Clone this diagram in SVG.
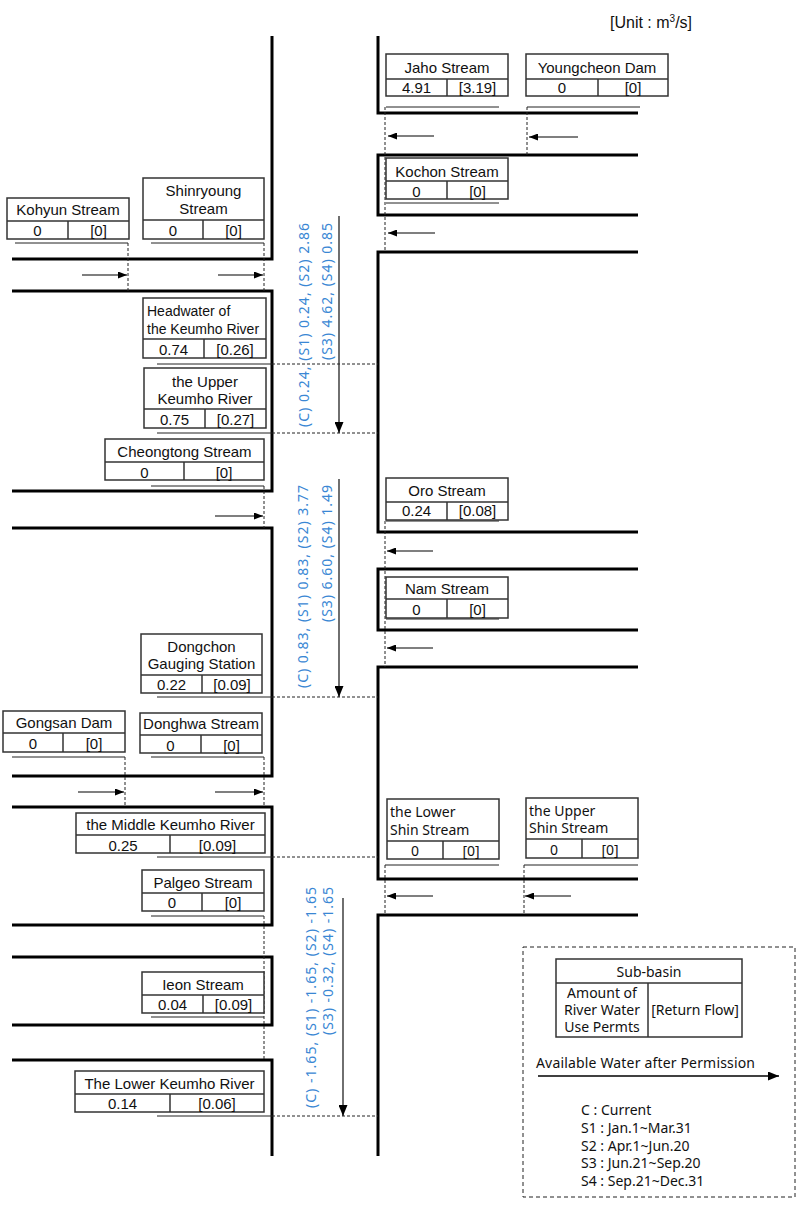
<svg xmlns="http://www.w3.org/2000/svg" width="800" height="1209" viewBox="0 0 800 1209">
<style>
.wall{fill:none;stroke:#000;stroke-width:3;stroke-linejoin:miter}
.box rect{fill:#fff;stroke:#333;stroke-width:1.5}
.box line{stroke:#333;stroke-width:1.5}
.t{font-family:"Liberation Sans",Arial,sans-serif;font-size:15px;fill:#111;text-anchor:middle}
.tl{text-anchor:start}
.k{font-family:"Noto Sans","Liberation Sans",sans-serif;font-size:14px;fill:#111}
.thin{fill:none;stroke:#222;stroke-width:1}
.dash{fill:none;stroke:#222;stroke-width:1;stroke-dasharray:3,2}
.arr{fill:none;stroke:#000;stroke-width:1.2;marker-end:url(#ah)}
.big{fill:none;stroke:#222;stroke-width:1.3;marker-end:url(#bh)}
.blue{font-family:"Noto Sans","DejaVu Sans",sans-serif;font-size:14px;fill:#3a87d4}
</style>
<defs>
<marker id="ah" markerUnits="userSpaceOnUse" markerWidth="9" markerHeight="7" refX="9" refY="3.5" orient="auto"><path d="M0,0 L9,3.5 L0,7 z" fill="#000"/></marker>
<marker id="bh" markerUnits="userSpaceOnUse" markerWidth="11" markerHeight="9" refX="11" refY="4.5" orient="auto"><path d="M0,0 L11,4.5 L0,9 z" fill="#000"/></marker>
</defs>
<rect width="800" height="1209" fill="#fff"/>
<text class="t tl" x="610" y="28" style="font-size:16px">[Unit : m<tspan font-size="10" dy="-6">3</tspan><tspan dy="6">/s]</tspan></text>

<g id="channels">
<path class="wall" d="M272,36 V259 H12 M12,291 H272 V491 H12 M12,528 H272 V776 H12 M12,807 H272 V925 H12 M12,957 H272 V1025 H12 M12,1060 H272 V1156"/>
<path class="wall" d="M378,36 V113 H638 M638,155 H378 V215 H638 M638,252 H378 V532 H638 M638,569 H378 V630 H638 M638,667 H378 V879 H638 M638,915 H378 V1156"/>
</g>

<g id="connectors">
<path class="thin" d="M386,107 H499 M527,107 H640 M386,203 H499 M15,243 H128 M151,243 H264 M151,486 H264 M12,757 H125 M151,757 H264 M151,916 H264 M151,1017 H264 M386,521 H499 M386,619 H499 M385,865 H499 M524,865 H638"/>
<path class="dash" d="M385,107 V252 M527,107 V155 M128,243 V291 M264,243 V291 M264,486 V528 M125,757 V807 M264,757 V807 M264,916 V1060 M385,521 V667 M385,865 V915 M524,865 V915"/>
<path class="thin" d="M157,364 H272 M157,433 H272 M157,697 H272 M157,857 H272 M157,1116 H272"/>
<path class="dash" d="M272,364 H378 M272,433 H378 M272,697 H378 M272,857 H378 M272,1116 H378"/>
<path class="arr" d="M434,136 H388"/>
<path class="arr" d="M578,137 H529"/>
<path class="arr" d="M435,233 H388"/>
<path class="arr" d="M82,275 H127"/>
<path class="arr" d="M218,275 H263"/>
<path class="arr" d="M215,516 H263"/>
<path class="arr" d="M78,792 H124"/>
<path class="arr" d="M215,792 H263"/>
<path class="arr" d="M433,551 H387"/>
<path class="arr" d="M433,648 H387"/>
<path class="arr" d="M433,896 H387"/>
<path class="arr" d="M571,896 H525"/>
<path class="big" d="M339,216 V433"/>
<path class="big" d="M339,479 V697"/>
<path class="big" d="M343,898 V1116"/>
</g>

<g id="flow-labels">
<text class="blue" transform="translate(309,427) rotate(-90)" textLength="204" lengthAdjust="spacing">(C) 0.24, (S1) 0.24, (S2) 2.86</text>
<text class="blue" transform="translate(332,360) rotate(-90)" textLength="137" lengthAdjust="spacing">(S3) 4.62, (S4) 0.85</text>
<text class="blue" transform="translate(308,688) rotate(-90)" textLength="203" lengthAdjust="spacing">(C) 0.83, (S1) 0.83, (S2) 3.77</text>
<text class="blue" transform="translate(332,622) rotate(-90)" textLength="137" lengthAdjust="spacing">(S3) 6.60, (S4) 1.49</text>
<text class="blue" transform="translate(316,1108) rotate(-90)" textLength="221" lengthAdjust="spacing">(C) -1.65, (S1) -1.65, (S2) -1.65</text>
<text class="blue" transform="translate(333,1035) rotate(-90)" textLength="148" lengthAdjust="spacing">(S3) -0.32, (S4) -1.65</text>
</g>

<g id="jaho" class="box"><rect x="386" y="54" width="122" height="42"/><line x1="386" y1="79" x2="508" y2="79"/><line x1="447" y1="79" x2="447" y2="96"/>
<text class="t" x="447" y="73">Jaho Stream</text><text class="t" x="416.5" y="93">4.91</text><text class="t" x="477.5" y="93">[3.19]</text></g>
<g id="youngcheon" class="box"><rect x="526" y="54" width="142" height="42"/><line x1="526" y1="79" x2="668" y2="79"/><line x1="598" y1="79" x2="598" y2="96"/>
<text class="t" x="597" y="73">Youngcheon Dam</text><text class="t" x="562" y="93">0</text><text class="t" x="633" y="93">[0]</text></g>
<g id="kochon" class="box"><rect x="386" y="158" width="122" height="41"/><line x1="386" y1="181" x2="508" y2="181"/><line x1="447" y1="181" x2="447" y2="199"/>
<text class="t" x="447" y="177">Kochon Stream</text><text class="t" x="416.5" y="197">0</text><text class="t" x="477.5" y="197">[0]</text></g>
<g id="kohyun" class="box"><rect x="7" y="198" width="122" height="41"/><line x1="7" y1="221" x2="129" y2="221"/><line x1="68" y1="221" x2="68" y2="239"/>
<text class="t" x="68" y="215">Kohyun Stream</text><text class="t" x="37.5" y="236">0</text><text class="t" x="98.5" y="236">[0]</text></g>
<g id="shinryoung" class="box"><rect x="143" y="178" width="121" height="61"/><line x1="143" y1="220" x2="264" y2="220"/><line x1="203" y1="220" x2="203" y2="239"/>
<text class="t" x="203.5" y="196">Shinryoung</text><text class="t" x="203.5" y="214">Stream</text><text class="t" x="173" y="236">0</text><text class="t" x="233.5" y="236">[0]</text></g>
<g id="headwater" class="box"><rect x="143" y="298" width="123" height="60"/><line x1="143" y1="339" x2="266" y2="339"/><line x1="204" y1="339" x2="204" y2="358"/>
<text class="t tl" x="147" y="316" style="font-size:14px">Headwater of</text><text class="t tl" x="147" y="334" style="font-size:14px">the Keumho River</text><text class="t" x="173.5" y="355">0.74</text><text class="t" x="235" y="355">[0.26]</text></g>
<g id="upper-keumho" class="box"><rect x="144" y="368" width="122" height="60"/><line x1="144" y1="409" x2="266" y2="409"/><line x1="205" y1="409" x2="205" y2="428"/>
<text class="t" x="205" y="387">the Upper</text><text class="t" x="205" y="404">Keumho River</text><text class="t" x="174.5" y="425">0.75</text><text class="t" x="235.5" y="425">[0.27]</text></g>
<g id="cheongtong" class="box"><rect x="105" y="439" width="159" height="41"/><line x1="105" y1="462" x2="264" y2="462"/><line x1="184" y1="462" x2="184" y2="480"/>
<text class="t" x="184.5" y="457">Cheongtong Stream</text><text class="t" x="144.5" y="478">0</text><text class="t" x="224" y="478">[0]</text></g>
<g id="dongchon" class="box"><rect x="141" y="634" width="121" height="59"/><line x1="141" y1="675" x2="262" y2="675"/><line x1="202" y1="675" x2="202" y2="693"/>
<text class="t" x="201.5" y="652">Dongchon</text><text class="t" x="201.5" y="669">Gauging Station</text><text class="t" x="171.5" y="690">0.22</text><text class="t" x="232" y="690">[0.09]</text></g>
<g id="gongsan" class="box"><rect x="3" y="711" width="122" height="41"/><line x1="3" y1="733" x2="125" y2="733"/><line x1="63" y1="733" x2="63" y2="752"/>
<text class="t" x="64" y="728">Gongsan Dam</text><text class="t" x="33" y="749">0</text><text class="t" x="94" y="749">[0]</text></g>
<g id="donghwa" class="box"><rect x="140" y="713" width="122" height="40"/><line x1="140" y1="735" x2="262" y2="735"/><line x1="201" y1="735" x2="201" y2="753"/>
<text class="t" x="201" y="729">Donghwa Stream</text><text class="t" x="170.5" y="751">0</text><text class="t" x="231.5" y="751">[0]</text></g>
<g id="middle-keumho" class="box"><rect x="76" y="813" width="189" height="40"/><line x1="76" y1="835" x2="265" y2="835"/><line x1="170" y1="835" x2="170" y2="853"/>
<text class="t" x="170.5" y="830">the Middle Keumho River</text><text class="t" x="123" y="851">0.25</text><text class="t" x="217.5" y="851">[0.09]</text></g>
<g id="palgeo" class="box"><rect x="142" y="870" width="122" height="41"/><line x1="142" y1="893" x2="264" y2="893"/><line x1="202" y1="893" x2="202" y2="911"/>
<text class="t" x="203" y="888">Palgeo Stream</text><text class="t" x="172" y="908">0</text><text class="t" x="233" y="908">[0]</text></g>
<g id="ieon" class="box"><rect x="142" y="972" width="122" height="41"/><line x1="142" y1="995" x2="264" y2="995"/><line x1="203" y1="995" x2="203" y2="1013"/>
<text class="t" x="203" y="990">Ieon Stream</text><text class="t" x="172.5" y="1010">0.04</text><text class="t" x="233.5" y="1010">[0.09]</text></g>
<g id="lower-keumho" class="box"><rect x="75" y="1071" width="189" height="41"/><line x1="75" y1="1094" x2="264" y2="1094"/><line x1="170" y1="1094" x2="170" y2="1112"/>
<text class="t" x="169.5" y="1089">The Lower Keumho River</text><text class="t" x="122.5" y="1109">0.14</text><text class="t" x="217" y="1109">[0.06]</text></g>
<g id="oro" class="box"><rect x="386" y="478" width="122" height="42"/><line x1="386" y1="502" x2="508" y2="502"/><line x1="447" y1="502" x2="447" y2="520"/>
<text class="t" x="447" y="496">Oro Stream</text><text class="t" x="416.5" y="516">0.24</text><text class="t" x="477.5" y="516">[0.08]</text></g>
<g id="nam" class="box"><rect x="386" y="577" width="122" height="41"/><line x1="386" y1="599" x2="508" y2="599"/><line x1="447" y1="599" x2="447" y2="618"/>
<text class="t" x="447" y="594">Nam Stream</text><text class="t" x="416.5" y="615">0</text><text class="t" x="477.5" y="615">[0]</text></g>
<g id="lower-shin" class="box"><rect x="387" y="799" width="112" height="60"/><line x1="387" y1="841" x2="499" y2="841"/><line x1="443" y1="841" x2="443" y2="859"/>
<text class="k" x="390" y="817">the Lower</text><text class="k" x="390" y="835">Shin Stream</text><text class="k" x="415" y="856" text-anchor="middle">0</text><text class="k" x="471" y="856" text-anchor="middle">[0]</text></g>
<g id="upper-shin" class="box"><rect x="526" y="798" width="112" height="60"/><line x1="526" y1="839" x2="638" y2="839"/><line x1="582" y1="839" x2="582" y2="858"/>
<text class="k" x="529" y="816">the Upper</text><text class="k" x="529" y="833">Shin Stream</text><text class="k" x="554" y="855" text-anchor="middle">0</text><text class="k" x="610" y="855" text-anchor="middle">[0]</text></g>

<g id="legend">
<rect x="523" y="947" width="272" height="250" fill="none" stroke="#222" stroke-width="1" stroke-dasharray="4,3"/>
<g class="box"><rect x="556" y="959" width="186" height="78"/><line x1="556" y1="983" x2="742" y2="983"/><line x1="648" y1="983" x2="648" y2="1037"/></g>
<text class="k" x="649" y="977" text-anchor="middle">Sub-basin</text>
<text class="k" x="602" y="998" text-anchor="middle">Amount of</text>
<text class="k" x="602" y="1015" text-anchor="middle">River Water</text>
<text class="k" x="602" y="1032" text-anchor="middle">Use Permts</text>
<text class="k" x="695" y="1015" text-anchor="middle">[Return Flow]</text>
<text class="k" x="536" y="1068" textLength="219" lengthAdjust="spacing">Available Water after Permission</text>
<path class="big" d="M538,1076 H779" style="stroke:#000"/>
<text class="k" x="581" y="1115">C : Current</text>
<text class="k" x="581" y="1133">S1 : Jan.1~Mar.31</text>
<text class="k" x="581" y="1151">S2 : Apr.1~Jun.20</text>
<text class="k" x="581" y="1168">S3 : Jun.21~Sep.20</text>
<text class="k" x="581" y="1186">S4 : Sep.21~Dec.31</text>
</g>
</svg>
